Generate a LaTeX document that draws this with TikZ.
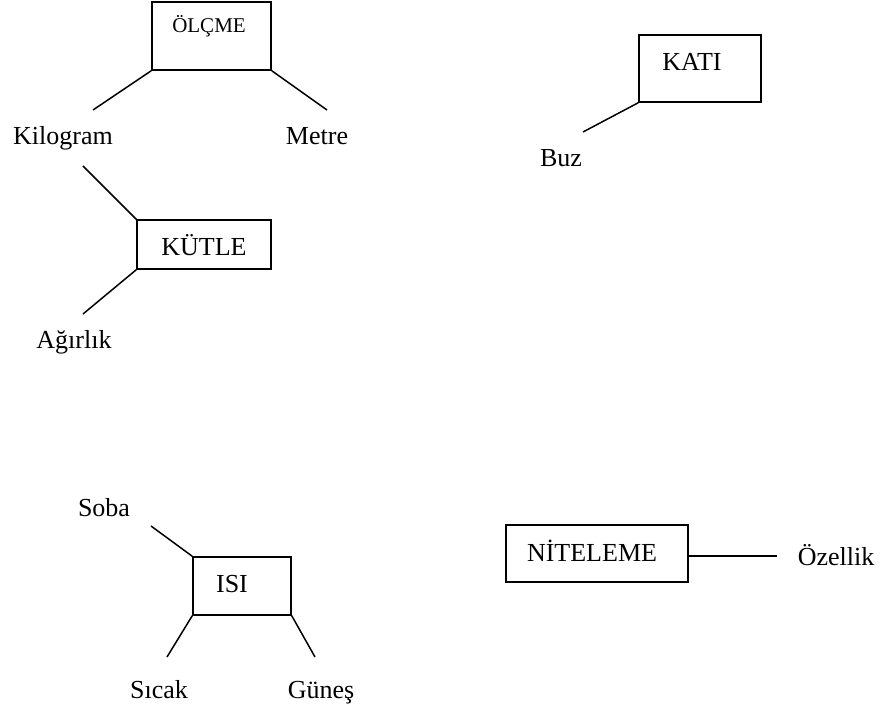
\documentclass[tikz,border=0pt]{standalone}
\usepackage{fontspec}
\setmainfont{Liberation Serif}
\begin{document}
\begin{tikzpicture}[x=1pt,y=-1pt,
  box/.style={draw,line width=1.5pt,rectangle,inner sep=0pt},
  lab/.style={inner sep=0pt,anchor=base,font=\fontsize{26}{30}\selectfont},
  smalllab/.style={inner sep=0pt,anchor=base,font=\fontsize{21}{25}\selectfont},
  conn/.style={line width=1.5pt}]
\useasboundingbox (0,0) rectangle (882,708);
% OLCME
\node[box,minimum width=119pt,minimum height=68pt] (olcme) at (211.5,36) {};
\node[smalllab] (olcmet) at (209,33) {ÖLÇME};
\node[lab] (kilo) at (63,145) {Kilogram};
\node[lab] (metre) at (317,145) {Metre};
\coordinate (kiloend) at (93,110);
\coordinate (metreend) at (327,110);
\draw[conn] (olcme.south west) -- (kiloend);
\draw[conn] (olcme.south east) -- (metreend);
% KUTLE
\node[box,minimum width=134pt,minimum height=49pt] (kutle) at (204,244.5) {};
\node[lab] (kutlet) at (204,255) {KÜTLE};
\coordinate (kiloend2) at (83,166);
\coordinate (agirend) at (83,314);
\node[lab] (agir) at (74,348) {Ağırlık};
\draw[conn] (kutle.north west) -- (kiloend2);
\draw[conn] (kutle.south west) -- (agirend);
% KATI
\node[box,minimum width=122pt,minimum height=67pt] (kati) at (700,68.5) {};
\node[lab] (katit) at (692,71) {KATI};
\coordinate (buzend) at (583,132);
\node[lab] (buz) at (561,167) {Buz};
\draw[conn] (kati.south west) -- (buzend);
% ISI
\node[box,minimum width=98pt,minimum height=58pt] (isi) at (242,586) {};
\node[lab] (isit) at (232,592) {ISI};
\node[lab] (soba) at (104,516) {Soba};
\node[lab] (sicak) at (159,698) {Sıcak};
\node[lab] (gunes) at (321,698) {Güneş};
\coordinate (sobaend) at (151,526);
\coordinate (sicakend) at (167,657);
\coordinate (gunesend) at (315,657);
\draw[conn] (isi.north west) -- (sobaend);
\draw[conn] (isi.south west) -- (sicakend);
\draw[conn] (isi.south east) -- (gunesend);
% NITELEME
\node[box,minimum width=182pt,minimum height=57pt] (nit) at (597,553.5) {};
\node[lab] (nitt) at (592,561) {NİTELEME};
\node[lab] (ozel) at (836,565) {Özellik};
\coordinate (ozelend) at (777,556);
\draw[conn] (nit.east |- ozelend) -- (ozelend);
\end{tikzpicture}
\end{document}
